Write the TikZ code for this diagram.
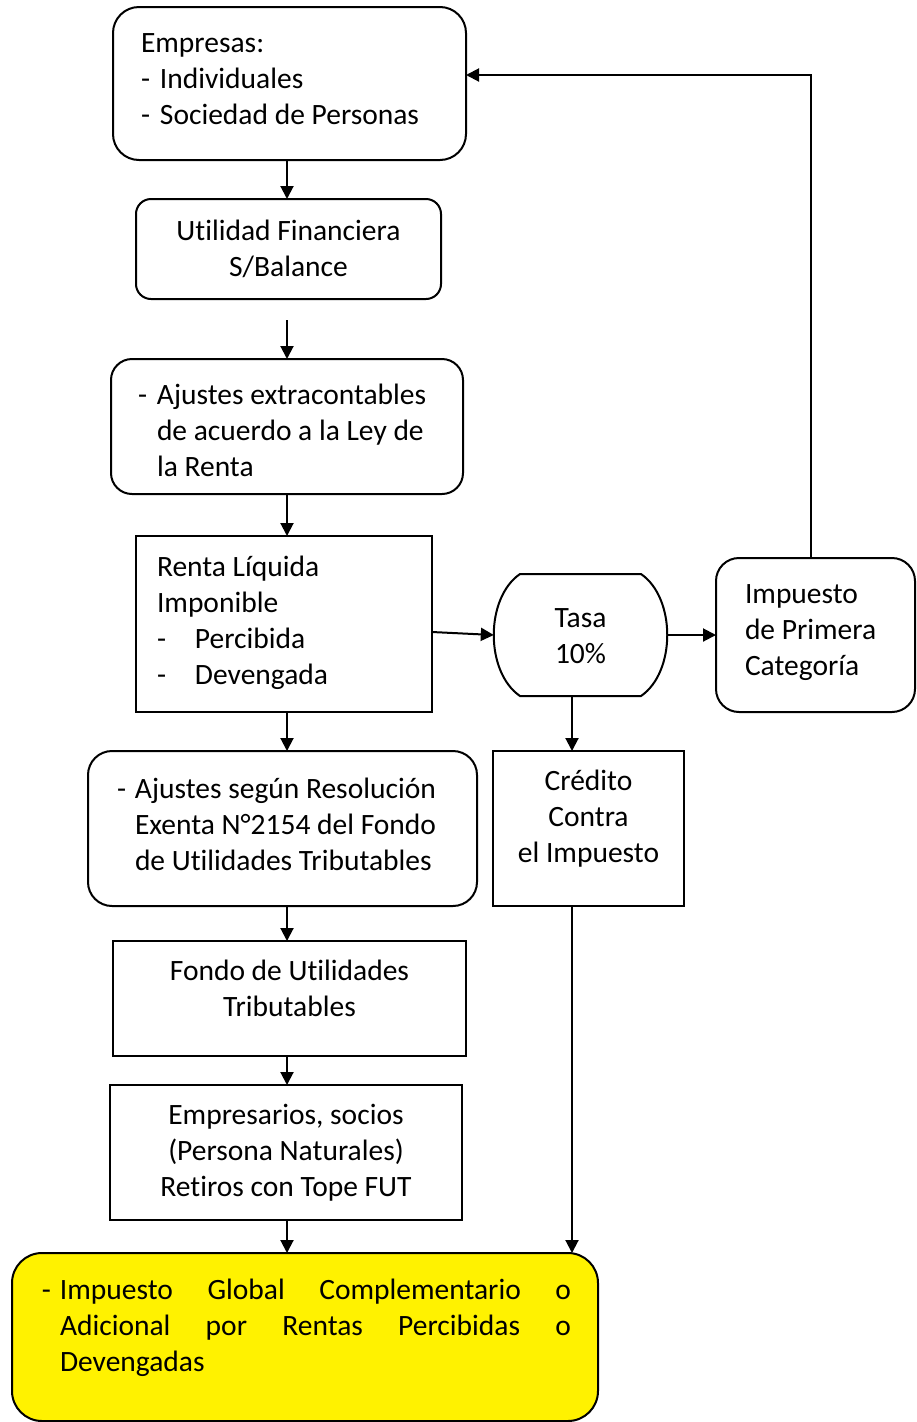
\documentclass[tikz,border=0pt]{standalone}
\usepackage{fontspec}
\setmainfont{Carlito}[Ligatures=NoCommon]
\usetikzlibrary{arrows.meta}
\hyphenpenalty=10000
\exhyphenpenalty=10000
\tolerance=9999
\newcommand\dsh[1][19pt]{\makebox[#1][l]{-}}
\newcommand\lpar[2]{\parbox{#1}{\raggedright #2}}
\newcommand\cpar[2]{\parbox{#1}{\centering #2}}
\begin{document}
\begin{tikzpicture}[x=1pt,y=-1pt,
  every node/.style={font=\fontsize{29.5}{36}\selectfont},
  base/.style={draw, line width=2pt, inner sep=0pt, outer sep=0pt, rectangle},
  rbox/.style={base, rounded corners=#1},
  sbox/.style={base},
  arr/.style={-{Triangle[length=13pt,width=13pt]}, line width=2pt},
  ln/.style={line width=2pt}]
\useasboundingbox (0,0) rectangle (916,1422);
\coordinate (col) at (287,0);
\coordinate (col2) at (572,0);
\coordinate (free) at (287,320);

\node[rbox=26pt, minimum width=353pt, minimum height=153pt] (emp) at (289.5,83.5)
  {\lpar{353pt}{\leftskip=28pt Empresas:\\\dsh Individuales\\\dsh Sociedad de Personas\par\vspace{8pt}}};
\node[rbox=15pt, minimum width=305pt, minimum height=100pt] (util) at (288.5,249)
  {\cpar{305pt}{Utilidad Financiera\\S/Balance}};
\node[rbox=21pt, minimum width=352pt, minimum height=135pt] (ajx) at (287,426.5)
  {\lpar{352pt}{\leftskip=27pt \dsh Ajustes extracontables\\\hspace*{19pt}de acuerdo a la Ley de\\\hspace*{19pt}la Renta\par\vspace{-7pt}}};
\node[sbox, minimum width=296pt, minimum height=176pt] (renta) at (284,624)
  {\lpar{296pt}{\leftskip=21pt Renta Líquida\\Imponible\\\dsh[38pt]Percibida\\\dsh[38pt]Devengada\par\vspace{3pt}}};
\node[minimum width=173pt, minimum height=122pt, inner sep=0pt] (tasa) at (580.5,635)
  {\cpar{173pt}{Tasa\\10\%\par\vspace{-2pt}}};
\draw[ln] (520,574) -- (641,574) .. controls (676,598) and (676,672) .. (641,696)
  -- (520,696) .. controls (485,672) and (485,598) .. (520,574) -- cycle;
\node[rbox=23pt, minimum width=199pt, minimum height=154pt] (imp) at (815.5,635)
  {\lpar{199pt}{\leftskip=29pt Impuesto\\de Primera\\Categoría\par\vspace{4pt}}};
\node[rbox=24pt, minimum width=389pt, minimum height=155pt] (ajs) at (282.5,828.5)
  {\lpar{389pt}{\leftskip=29pt \dsh[18pt]Ajustes según Resolución\\\hspace*{18pt}Exenta N°2154 del Fondo\\\hspace*{18pt}de Utilidades Tributables\par\vspace{9pt}}};
\node[sbox, minimum width=191pt, minimum height=155pt] (cred) at (588.5,828.5)
  {\cpar{191pt}{Crédito\\Contra\\el Impuesto\par\vspace{19pt}}};
\node[sbox, minimum width=353pt, minimum height=115pt] (fondo) at (289.5,998.5)
  {\cpar{353pt}{Fondo de Utilidades\\Tributables\par\vspace{20pt}}};
\node[sbox, minimum width=352pt, minimum height=135pt] (empr) at (286,1152.5)
  {\cpar{352pt}{Empresarios, socios\\(Persona Naturales)\\Retiros con Tope FUT}};
\node[rbox=30pt, fill=yellow, minimum width=586pt, minimum height=168pt] (yel) at (305,1337)
  {\parbox{586pt}{\leftskip=30pt \rightskip=27pt \parfillskip=0pt plus 1fil \hangindent=18pt \hangafter=1 \noindent\dsh[18pt]Impuesto Global Complementario o\linebreak Adicional por Rentas Percibidas o\linebreak Devengadas\par\vspace{19pt}}};

\draw[arr] (emp.south -| col) -- (util.north -| col);
\draw[arr] (free) -- (ajx.north -| col);
\draw[arr] (ajx.south -| col) -- (renta.north -| col);
\draw[arr] ([yshift=-8pt]renta.east) -- (tasa.west);
\draw[arr] (tasa.east) -- (imp.west);
\draw[arr] ([xshift=-4.5pt]imp.north) |- ([yshift=8.5pt]emp.east);
\draw[arr] (renta.south -| col) -- (ajs.north -| col);
\draw[arr] (tasa.south -| col2) -- (cred.north -| col2);
\draw[arr] (ajs.south -| col) -- (fondo.north -| col);
\draw[arr] (fondo.south -| col) -- (empr.north -| col);
\draw[arr] (empr.south -| col) -- (yel.north -| col);
\draw[arr] (cred.south -| col2) -- (yel.north -| col2);
\end{tikzpicture}
\end{document}
